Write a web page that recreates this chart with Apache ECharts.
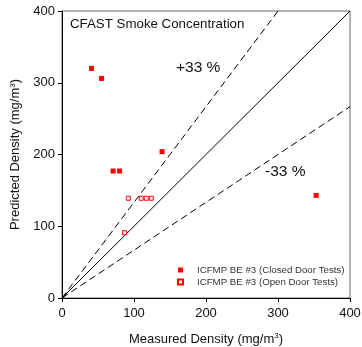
<!DOCTYPE html>
<html><head><meta charset="utf-8">
<script src="https://cdn.jsdelivr.net/npm/echarts@6/dist/echarts.min.js"></script>
<style>html,body{margin:0;padding:0;background:#fff}#c{width:362px;height:347px}</style>
</head><body><div id="c"></div>
<script>
const closedDoor = [[41,320],[55,306],[71,177],[80,177],[139,204],[353,143]];
const openDoor = [[92,139],[110,139],[117,139],[124,139],[87,91]];
const equalLine = [[0,0],[400,400]];
const plus33Line = [[0,0],[300,400]];
const minus33Line = [[0,0],[400,266.7]];
const axisTicks = [0,100,200,300,400];
const seriesNames = ['ICFMP BE #3 (Closed Door Tests)','ICFMP BE #3 (Open Door Tests)'];

const FONT = '"Liberation Sans", Arial, sans-serif';
const chart = echarts.init(document.getElementById('c'));
const axisCommon = {
  type:'value', min:axisTicks[0], max:axisTicks[axisTicks.length-1], interval:100,
  axisLine:{show:true,lineStyle:{color:'#000',width:1}},
  axisTick:{show:true,inside:false,length:4,lineStyle:{color:'#000'}},
  axisLabel:{color:'#111',fontSize:13,fontFamily:FONT},
  splitLine:{show:false},
  nameLocation:'middle',
  nameTextStyle:{color:'#111',fontSize:13,fontFamily:FONT,
    rich:{s:{fontSize:8,fontFamily:FONT,color:'#111',verticalAlign:'top',lineHeight:14}}}
};
chart.setOption({
  animation:false,
  grid:{left:62,top:11,width:288,height:287,outerBoundsMode:'none',containLabel:false,
    show:true,borderColor:'#666',borderWidth:1,backgroundColor:'transparent'},
  xAxis:Object.assign({},axisCommon,{name:'Measured Density (mg/m{s|3})',nameGap:34,
    axisLabel:Object.assign({},axisCommon.axisLabel,{margin:9})}),
  yAxis:Object.assign({},axisCommon,{name:'Predicted Density (mg/m{s|3})',nameGap:36,
    axisLabel:Object.assign({},axisCommon.axisLabel,{margin:7})}),
  legend:{
    orient:'vertical', left:177, top:265, padding:0, itemWidth:5, itemHeight:5, itemGap:2,
    icon:'rect',
    textStyle:{fontSize:9.7,fontFamily:FONT,color:'#333',lineHeight:10,padding:[0,0,0,9]},
    data:seriesNames
  },
  graphic:[
    {type:'text',left:70,top:18,style:{text:'CFAST Smoke Concentration',fontSize:13.3,fontFamily:FONT,fill:'#111'}},
    {type:'text',left:176,top:60,style:{text:'+33 %',fontSize:15.5,fontFamily:FONT,fill:'#111'}},
    {type:'text',left:265,top:164,style:{text:'-33 %',fontSize:15.5,fontFamily:FONT,fill:'#111'}}
  ],
  series:[
    {type:'line',data:equalLine,symbol:'none',lineStyle:{color:'#000',width:1},silent:true,z:1},
    {type:'line',data:plus33Line,symbol:'none',lineStyle:{color:'#000',width:1,type:[7,4]},silent:true,z:1},
    {type:'line',data:minus33Line,symbol:'none',lineStyle:{color:'#000',width:1,type:[7,4]},silent:true,z:1},
    {name:seriesNames[0],type:'scatter',data:closedDoor,symbol:'rect',symbolSize:5,
      itemStyle:{color:'#ff0000',opacity:1},z:3},
    {name:seriesNames[1],type:'scatter',data:openDoor,symbol:'rect',symbolSize:4,
      itemStyle:{color:'#ffffff',borderColor:'#ff0000',borderWidth:1,opacity:1},z:3}
  ]
});
</script></body></html>
